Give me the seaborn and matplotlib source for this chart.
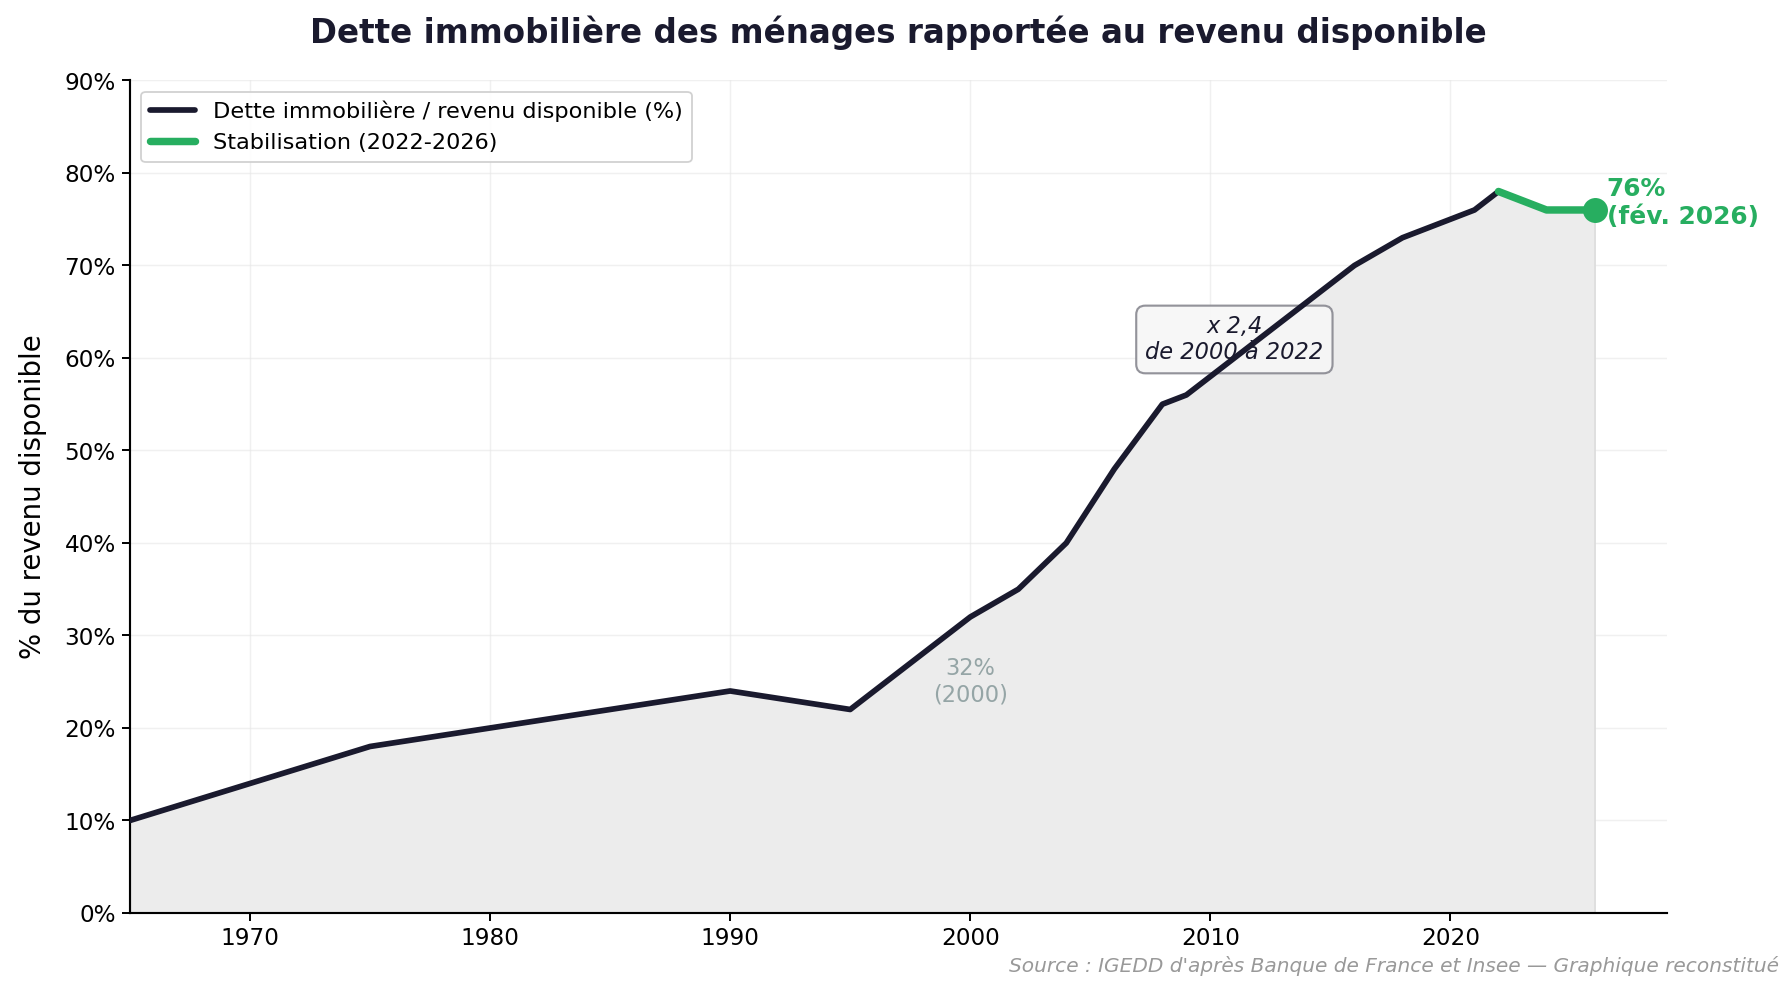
import matplotlib
matplotlib.use("Agg")
import matplotlib.pyplot as plt
import seaborn as sns
import pandas as pd
from matplotlib.ticker import FuncFormatter, MultipleLocator

years = [1965, 1970, 1975, 1980, 1990, 1995, 2000, 2002, 2004, 2006, 2008, 2009, 2016, 2018, 2020, 2021, 2022]
ratio = [10, 14, 18, 20, 24, 22, 32, 35, 40, 48, 55, 56, 70, 73, 75, 76, 78]
stab_years = [2022, 2024, 2026]
stab_ratio = [78, 76, 76]

title = "Dette immobilière des ménages rapportée au revenu disponible"
label_main = "Dette immobilière / revenu disponible (%)"
label_stab = "Stabilisation (2022-2026)"
source = "Source : IGEDD d'après Banque de France et Insee — Graphique reconstitué"

DARK = "#1a1a2e"
GREEN = "#27ae60"

sns.set_theme(style="white")
plt.rcParams['font.family'] = ['DejaVu Sans']
plt.rcParams['text.color'] = 'black'

fig = plt.figure(figsize=(14, 7.766), dpi=128)
ax = fig.add_axes([0.0725, 0.0815, 0.8575, 0.8375])

df_main = pd.DataFrame({"year": years, "ratio": ratio})
df_stab = pd.DataFrame({"year": stab_years, "ratio": stab_ratio})

all_years = years + stab_years[1:]
all_ratio = ratio + stab_ratio[1:]
ax.fill_between(all_years, all_ratio, 0, color="#ececec", edgecolor="#dddddd", linewidth=1, zorder=1)

sns.lineplot(data=df_main, x="year", y="ratio", ax=ax, color=DARK, linewidth=3.2,
             label=label_main, zorder=3)
sns.lineplot(data=df_stab, x="year", y="ratio", ax=ax, color=GREEN, linewidth=4.2,
             label=label_stab, zorder=4)
ax.scatter([stab_years[-1]], [stab_ratio[-1]], s=170, color=GREEN, zorder=5)

ax.set_xlim(1965, 2029)
ax.set_ylim(0, 90)
ax.yaxis.set_major_locator(MultipleLocator(10))
ax.yaxis.set_major_formatter(FuncFormatter(lambda v, p: f"{v:.0f}%"))
ax.xaxis.set_major_locator(MultipleLocator(10))
ax.set_xlabel("")
ax.set_ylabel("% du revenu disponible", fontsize=15.5, color="black", labelpad=10)
ax.tick_params(axis="both", labelsize=13, length=4.5, width=1.1, color="black", direction="out",
               bottom=True, left=True, labelcolor="black")
ax.grid(True, color="#e6e6e6", linewidth=0.8, alpha=0.6)
ax.set_axisbelow(True)
for s in ["top", "right"]:
    ax.spines[s].set_visible(False)
for s in ["left", "bottom"]:
    ax.spines[s].set_color("black")
    ax.spines[s].set_linewidth(1.2)

ax.set_title(title, fontsize=18.3, fontweight="bold", color=DARK, pad=21)

leg = ax.legend(loc="upper left", fontsize=12.6, frameon=True, framealpha=0.9,
                edgecolor="#cccccc", fancybox=True)
for t in leg.get_texts():
    t.set_color("black")

ax.annotate("x 2,4\nde 2000 à 2022", xy=(2011, 62), ha="center", va="center",
            fontsize=12.7, style="italic", color=DARK,
            bbox=dict(boxstyle="round,pad=0.4", facecolor="#f7f7f7", edgecolor="#888890",
                      linewidth=1.2, alpha=0.9), zorder=2.5)
ax.text(2000, 25, "32%\n(2000)", ha="center", va="center", fontsize=12.7, color="#95a5a6", zorder=6)
ax.text(2026.5, 76.8, "76%\n(fév. 2026)", ha="left", va="center", fontsize=14,
        fontweight="bold", color=GREEN, zorder=6)

fig.text(0.563, 0.022, source, fontsize=11.3, style="italic", color="#999999", ha="left")

fig.savefig("out.png", dpi=128)
